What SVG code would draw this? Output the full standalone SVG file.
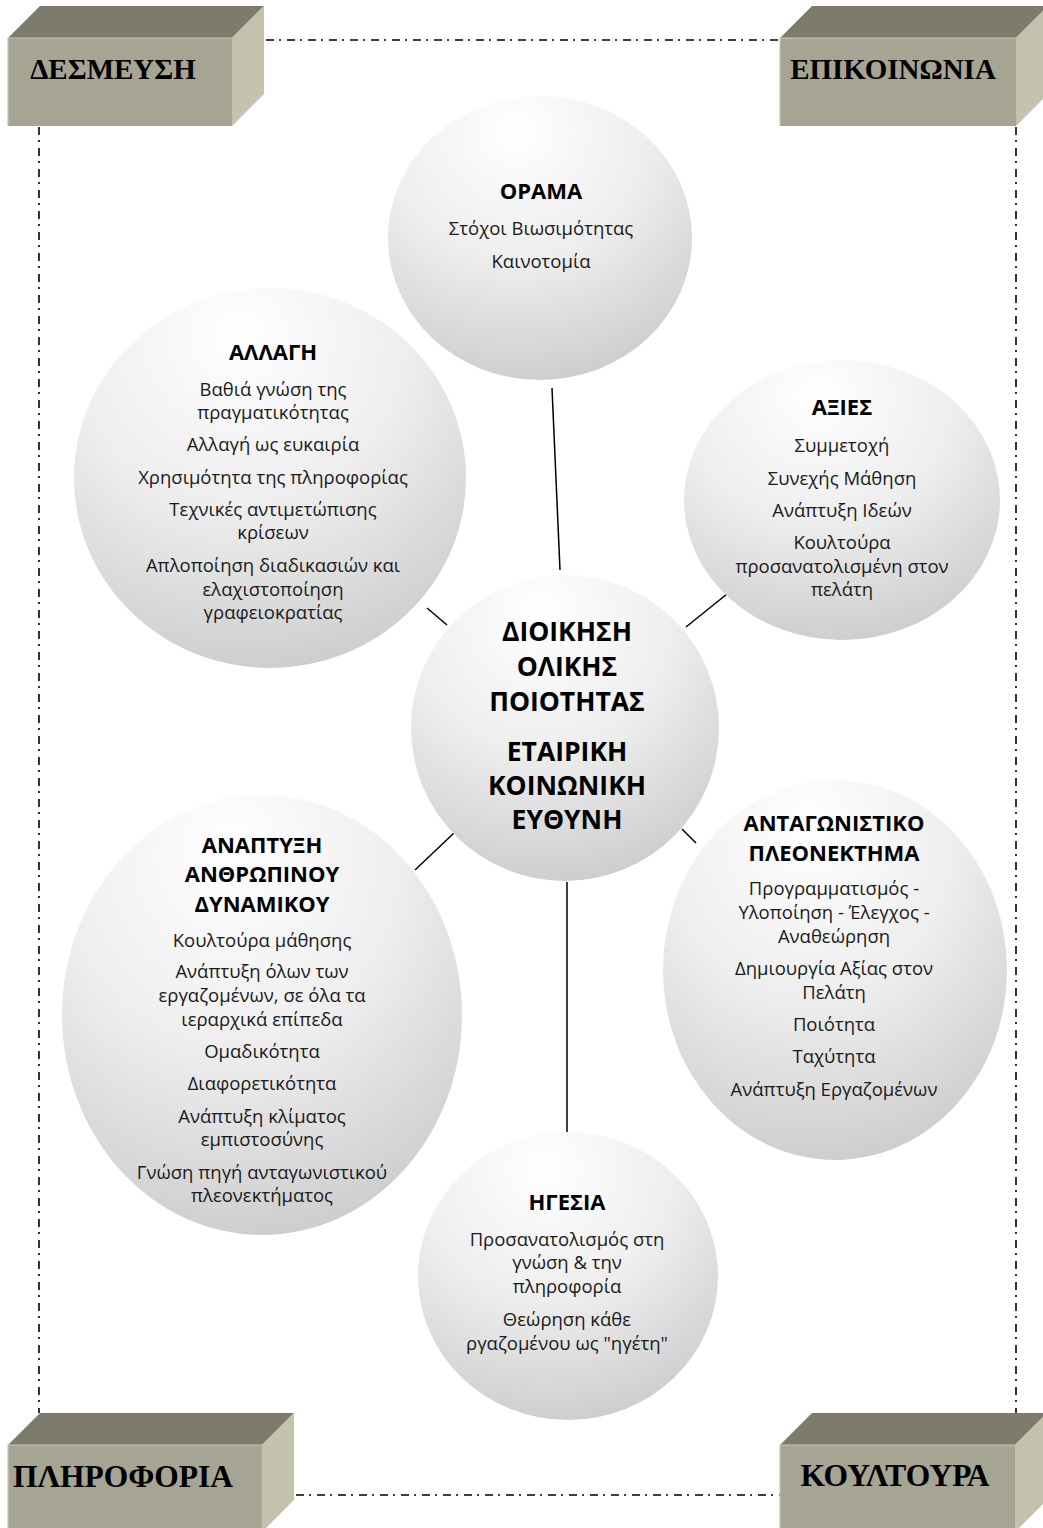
<svg xmlns="http://www.w3.org/2000/svg" width="1043" height="1528" viewBox="0 0 1043 1528">
  <style>
    .frame { fill: none; stroke: #000; stroke-width: 1.6; stroke-dasharray: 8 5 2 6; }
    .link { stroke: #000; stroke-width: 1.5; fill: none; }
    .face-front { fill: #a6a493; }
    .face-top { fill: #7d7b6d; }
    .face-side { fill: #c4c1ad; }
    .edge { stroke: #c9c7b6; stroke-width: 1.2; fill: none; }
    .btext { font-family: "Liberation Serif", "Times New Roman", serif; font-weight: bold; font-size: 29px; fill: #000; text-anchor: middle; }
    .btext-lg { font-size: 31.5px; }
    .bubble { fill: url(#bubbleFill); }
    .t { font-family: "Open Sans", "Noto Sans", "DejaVu Sans", sans-serif; font-size: 18.5px; fill: #1a1a1a; text-anchor: middle; }
    .h { font-family: "Open Sans", "Noto Sans", "DejaVu Sans", sans-serif; font-size: 22px; font-weight: bold; fill: #000; text-anchor: middle; }
    .hc { font-family: "Open Sans", "Noto Sans", "DejaVu Sans", sans-serif; font-size: 26.5px; font-weight: bold; fill: #000; text-anchor: middle; }
  </style>
  <defs>
    <radialGradient id="bubbleFill" cx="0.42" cy="0.18" r="0.95" fx="0.42" fy="0.12">
      <stop offset="0" stop-color="#ffffff"/>
      <stop offset="0.45" stop-color="#eeeeee"/>
      <stop offset="0.8" stop-color="#d4d4d4"/>
      <stop offset="1" stop-color="#c4c4c4"/>
    </radialGradient>
  </defs>

  <rect width="1043" height="1528" fill="#ffffff"/>

  <!-- dash-dot frame between the four corner blocks -->
  <g id="frame">
    <line class="frame" x1="266" y1="40" x2="780" y2="40"/>
    <line class="frame" x1="39" y1="127" x2="39" y2="1413"/>
    <line class="frame" x1="1016" y1="127" x2="1016" y2="1413"/>
    <line class="frame" x1="296" y1="1495" x2="780" y2="1495"/>
  </g>

  <!-- corner blocks -->
  <g id="block-desmeusi">
    <polygon class="face-top" points="8,38 40,6 264,6 232,38"/>
    <polygon class="face-side" points="232,38 264,6 264,94 232,126"/>
    <rect class="face-front" x="8" y="38" width="224" height="88"/>
    <polyline class="edge" points="8,126 8,38 232,38"/>
    <text class="btext" x="113" y="79">ΔΕΣΜΕΥΣΗ</text>
  </g>
  <g id="block-epikoinonia">
    <polygon class="face-top" points="780,38 812,6 1048,6 1016,38"/>
    <polygon class="face-side" points="1016,38 1048,6 1048,94 1016,126"/>
    <rect class="face-front" x="780" y="38" width="236" height="88"/>
    <polyline class="edge" points="780,126 780,38 1016,38"/>
    <text class="btext" x="893" y="79">ΕΠΙΚΟΙΝΩΝΙΑ</text>
  </g>
  <g id="block-pliroforia">
    <polygon class="face-top" points="8,1445 40,1413 294,1413 262,1445"/>
    <polygon class="face-side" points="262,1445 294,1413 294,1500 262,1532"/>
    <rect class="face-front" x="8" y="1445" width="254" height="88"/>
    <polyline class="edge" points="8,1533 8,1445 262,1445"/>
    <text class="btext btext-lg" x="123" y="1487">ΠΛΗΡΟΦΟΡΙΑ</text>
  </g>
  <g id="block-koultoura">
    <polygon class="face-top" points="780,1445 812,1413 1047,1413 1015,1445"/>
    <polygon class="face-side" points="1015,1445 1047,1413 1047,1500 1015,1532"/>
    <rect class="face-front" x="780" y="1445" width="235" height="88"/>
    <polyline class="edge" points="780,1533 780,1445 1015,1445"/>
    <text class="btext btext-lg" x="895" y="1486">ΚΟΥΛΤΟΥΡΑ</text>
  </g>

  <!-- spokes from the hub to each bubble -->
  <g id="connectors">
    <line class="link" x1="552" y1="388" x2="560" y2="570"/>
    <line class="link" x1="427" y1="608" x2="447" y2="625"/>
    <line class="link" x1="686" y1="627" x2="727" y2="594"/>
    <line class="link" x1="415" y1="870" x2="455" y2="832"/>
    <line class="link" x1="682" y1="829" x2="696" y2="843"/>
    <line class="link" x1="567" y1="882" x2="567" y2="1132"/>
  </g>

  <g id="node-orama">
    <ellipse class="bubble" cx="540" cy="238" rx="152" ry="142"/>
    <text class="h" x="541" y="199">ΟΡΑΜΑ</text>
    <text class="t" x="541" y="235">Στόχοι Βιωσιμότητας</text>
    <text class="t" x="541" y="268">Καινοτομία</text>
  </g>

  <g id="node-allagi">
    <ellipse class="bubble" cx="270" cy="478" rx="196" ry="190"/>
    <text class="h" x="273" y="360">ΑΛΛΑΓΗ</text>
    <text class="t" x="273" y="396">Βαθιά γνώση της</text>
    <text class="t" x="273" y="419">πραγματικότητας</text>
    <text class="t" x="273" y="451">Αλλαγή ως ευκαιρία</text>
    <text class="t" x="273" y="484">Χρησιμότητα της πληροφορίας</text>
    <text class="t" x="273" y="516">Τεχνικές αντιμετώπισης</text>
    <text class="t" x="273" y="539">κρίσεων</text>
    <text class="t" x="273" y="572">Απλοποίηση διαδικασιών και</text>
    <text class="t" x="273" y="596">ελαχιστοποίηση</text>
    <text class="t" x="273" y="619">γραφειοκρατίας</text>
  </g>

  <g id="node-axies">
    <ellipse class="bubble" cx="842" cy="500" rx="158" ry="140"/>
    <text class="h" x="842" y="415">ΑΞΙΕΣ</text>
    <text class="t" x="842" y="452">Συμμετοχή</text>
    <text class="t" x="842" y="485">Συνεχής Μάθηση</text>
    <text class="t" x="842" y="517">Ανάπτυξη Ιδεών</text>
    <text class="t" x="842" y="549">Κουλτούρα</text>
    <text class="t" x="842" y="573">προσανατολισμένη στον</text>
    <text class="t" x="842" y="596">πελάτη</text>
  </g>

  <g id="node-center">
    <ellipse class="bubble" cx="565" cy="728" rx="154" ry="153"/>
    <text class="hc" x="567" y="641">ΔΙΟΙΚΗΣΗ</text>
    <text class="hc" x="567" y="676">ΟΛΙΚΗΣ</text>
    <text class="hc" x="567" y="711">ΠΟΙΟΤΗΤΑΣ</text>
    <text class="hc" x="567" y="761">ΕΤΑΙΡΙΚΗ</text>
    <text class="hc" x="567" y="795">ΚΟΙΝΩΝΙΚΗ</text>
    <text class="hc" x="567" y="829">ΕΥΘΥΝΗ</text>
  </g>

  <g id="node-anaptyxi">
    <ellipse class="bubble" cx="262" cy="1015" rx="200" ry="220"/>
    <text class="h" x="262" y="853">ΑΝΑΠΤΥΞΗ</text>
    <text class="h" x="262" y="882">ΑΝΘΡΩΠΙΝΟΥ</text>
    <text class="h" x="262" y="912">ΔΥΝΑΜΙΚΟΥ</text>
    <text class="t" x="262" y="947">Κουλτούρα μάθησης</text>
    <text class="t" x="262" y="978">Ανάπτυξη όλων των</text>
    <text class="t" x="262" y="1002">εργαζομένων, σε όλα τα</text>
    <text class="t" x="262" y="1026">ιεραρχικά επίπεδα</text>
    <text class="t" x="262" y="1058">Ομαδικότητα</text>
    <text class="t" x="262" y="1090">Διαφορετικότητα</text>
    <text class="t" x="262" y="1123">Ανάπτυξη κλίματος</text>
    <text class="t" x="262" y="1146">εμπιστοσύνης</text>
    <text class="t" x="262" y="1179">Γνώση πηγή ανταγωνιστικού</text>
    <text class="t" x="262" y="1202">πλεονεκτήματος</text>
  </g>

  <g id="node-antagonistiko">
    <ellipse class="bubble" cx="835" cy="970" rx="172" ry="190"/>
    <text class="h" x="834" y="831">ΑΝΤΑΓΩΝΙΣΤΙΚΟ</text>
    <text class="h" x="834" y="861">ΠΛΕΟΝΕΚΤΗΜΑ</text>
    <text class="t" x="834" y="895">Προγραμματισμός -</text>
    <text class="t" x="834" y="919">Υλοποίηση - Έλεγχος -</text>
    <text class="t" x="834" y="943">Αναθεώρηση</text>
    <text class="t" x="834" y="975">Δημιουργία Αξίας στον</text>
    <text class="t" x="834" y="999">Πελάτη</text>
    <text class="t" x="834" y="1031">Ποιότητα</text>
    <text class="t" x="834" y="1063">Ταχύτητα</text>
    <text class="t" x="834" y="1096">Ανάπτυξη Εργαζομένων</text>
  </g>

  <g id="node-igesia">
    <ellipse class="bubble" cx="568" cy="1276" rx="150" ry="144"/>
    <text class="h" x="567" y="1210">ΗΓΕΣΙΑ</text>
    <text class="t" x="567" y="1246">Προσανατολισμός στη</text>
    <text class="t" x="567" y="1269">γνώση &amp; την</text>
    <text class="t" x="567" y="1293">πληροφορία</text>
    <text class="t" x="567" y="1326">Θεώρηση κάθε</text>
    <text class="t" x="567" y="1350">ργαζομένου ως "ηγέτη"</text>
  </g>
</svg>
